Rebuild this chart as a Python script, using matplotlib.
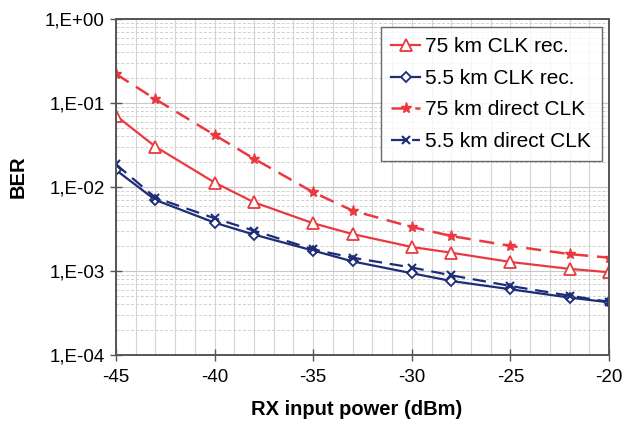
import math

import matplotlib
matplotlib.use("Agg")
import matplotlib.pyplot as plt
from matplotlib.ticker import FixedLocator, LogLocator, NullFormatter, FuncFormatter

plt.rcParams['font.family'] = ['Liberation Sans', 'DejaVu Sans']
plt.rcParams['axes.unicode_minus'] = False

# RX input power (dBm)
power = [-45, -43, -40, -38, -35, -33, -30, -28, -25, -22, -20]

# BER values
ber_75_rec = [0.0706, 0.0302, 0.0113, 0.00657, 0.0037, 0.00275, 0.00193, 0.00165, 0.00128, 0.00106, 0.000966]
ber_55_rec = [0.0159, 0.0070, 0.00376, 0.00271, 0.00175, 0.0013, 0.00094, 0.00076, 0.000606, 0.000482, 0.000424]
ber_75_direct = [0.221, 0.111, 0.0416, 0.0217, 0.00865, 0.00523, 0.00334, 0.00261, 0.00199, 0.00159, 0.00144]
ber_55_direct = [0.0186, 0.00746, 0.00424, 0.00302, 0.00181, 0.00144, 0.0011, 0.000888, 0.000663, 0.000508, 0.00043]

x_ticks = [-45, -40, -35, -30, -25, -20]
y_ticks = [1e0, 1e-1, 1e-2, 1e-3, 1e-4]

red = "#ea3a40"
navy = "#1d2d78"

fig = plt.figure(figsize=(6.25, 4.21), dpi=100)
ax = fig.add_axes([0.1856, 0.1568, 0.7888, 0.7981])

ax.plot(power, ber_75_rec, color=red, lw=1.6, marker="^", ms=8,
        mfc="white", mec=red, mew=1.3, label="75 km CLK rec.")
ax.plot(power, ber_55_rec, color=navy, lw=1.6, marker="D", ms=5.5,
        mfc="white", mec=navy, mew=1.3, label="5.5 km CLK rec.")
ax.plot(power, ber_75_direct, color=red, lw=1.8, ls=(0, (6, 3.5)), marker="*", ms=8,
        mfc=red, mec=red, label="75 km direct CLK")
ax.plot(power, ber_55_direct, color=navy, lw=1.6, ls=(0, (6, 3.5)), marker="x", ms=6,
        mew=1.5, label="5.5 km direct CLK")

ax.set_yscale("log")
ax.set_xlim(-45, -20)
ax.set_ylim(1e-4, 1e0)

ax.xaxis.set_major_locator(FixedLocator(x_ticks))
ax.xaxis.set_minor_locator(FixedLocator(list(range(-45, -19))))
ax.yaxis.set_major_locator(FixedLocator(y_ticks))
ax.yaxis.set_minor_locator(LogLocator(base=10, subs=range(2, 10), numticks=20))
ax.yaxis.set_minor_formatter(NullFormatter())
ax.yaxis.set_major_formatter(FuncFormatter(
    lambda v, p: "1,E%+03d" % round(math.log10(v))))

ax.grid(which="major", axis="y", color="#c8c8c8", lw=0.8)
ax.grid(which="minor", axis="y", color="#d0d0d0", lw=0.7, ls=(0, (3, 2)))
ax.grid(which="both", axis="x", color="#d4d4d4", lw=0.8)
ax.set_axisbelow(True)

for s in ax.spines.values():
    s.set_color("#555555")
    s.set_linewidth(1.4)

ax.tick_params(which="major", direction="inout", length=8, width=1.0,
               color="#555555", labelsize=13.5)
ax.tick_params(axis="x", which="major", pad=6)
ax.tick_params(axis="y", which="major", pad=4)
ax.tick_params(which="minor", length=0)

ax.set_xlabel("RX input power (dBm)", fontsize=14.5, fontweight="bold")
ax.set_ylabel("BER", fontsize=14.5, fontweight="bold")
ax.xaxis.set_label_coords(0.489, -0.135)
ax.yaxis.set_label_coords(-0.18, 0.53)

leg = ax.legend(loc="upper right", bbox_to_anchor=(0.985, 0.976), fontsize=15,
                frameon=True, fancybox=False, edgecolor="#444444",
                handlelength=1.4, handletextpad=0.25, labelspacing=0.6,
                borderpad=0.5, borderaxespad=0.0)
leg.get_frame().set_linewidth(1.0)

fig.savefig("out.png", dpi=100)
